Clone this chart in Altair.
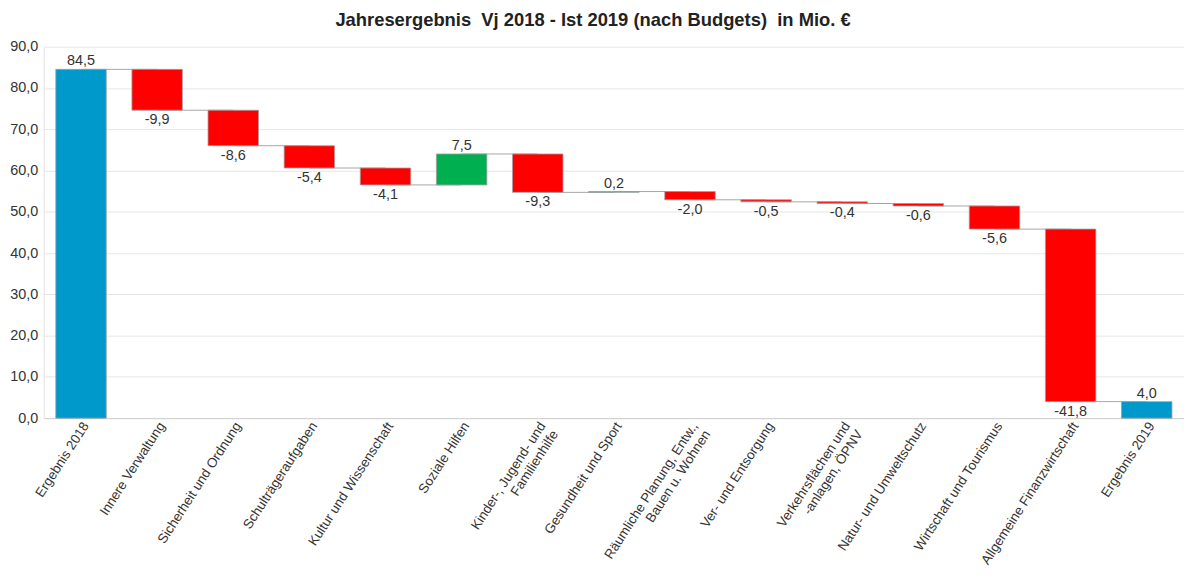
import altair as alt
import pandas as pd

categories = [
    "Ergebnis 2018", "Innere Verwaltung", "Sicherheit und Ordnung",
    "Schulträgeraufgaben", "Kultur und Wissenschaft", "Soziale Hilfen",
    "Kinder-, Jugend- und|Familienhilfe", "Gesundheit und Sport",
    "Räumliche Planung, Entw.,|Bauen u. Wohnen", "Ver- und Entsorgung",
    "Verkehrsflächen und|-anlagen, ÖPNV", "Natur- und Umweltschutz",
    "Wirtschaft und Tourismus", "Allgemeine Finanzwirtschaft", "Ergebnis 2019",
]
values = [84.5, -9.9, -8.6, -5.4, -4.1, 7.5, -9.3, 0.2, -2.0, -0.5, -0.4, -0.6, -5.6, -41.8, 4.0]
is_total = [True] + [False] * 13 + [True]

rows = []
level = 0.0
for i, (c, v, t) in enumerate(zip(categories, values, is_total)):
    if t:
        start, end = 0.0, v
        kind = "total"
    else:
        start, end = level, level + v
        kind = "up" if v >= 0 else "down"
    level = end
    rows.append({
        "cat": c, "value": v, "start": round(start, 2), "end": round(end, 2),
        "lo": round(min(start, end), 2), "hi": round(max(start, end), 2),
        "kind": kind,
        "next": categories[i + 1] if i + 1 < len(categories) else None,
    })
df = pd.DataFrame(rows)

FONT = "Liberation Sans"
TXT = "#333333"

xenc = alt.X("cat:N", sort=categories, title=None,
             scale=alt.Scale(paddingInner=0.337, paddingOuter=0.158),
             axis=alt.Axis(labelAngle=-57, labelAlign="right", labelBaseline="middle",
                           labelFontSize=13.5, labelFont=FONT, labelColor=TXT,
                           labelExpr="split(datum.label, '|')", labelLimit=300,
                           labelLineHeight=15, labelOffset=5,
                           ticks=False, domainColor="#d0d0d0", labelPadding=5))

base = alt.Chart(df)

connectors = base.transform_filter("datum.next != null").mark_rule(
    color="#a6a6a6", strokeWidth=1
).encode(x=xenc, x2="next:N", y=alt.Y("end:Q"))

bars = base.mark_bar(stroke="#a0a0a0", strokeWidth=0.8).encode(
    x=xenc,
    y=alt.Y("lo:Q", title=None,
            scale=alt.Scale(domain=[0, 90], nice=False),
            axis=alt.Axis(values=list(range(0, 91, 10)),
                          labelExpr="replace(format(datum.value, '.1f'), '.', ',')",
                          labelFontSize=14.5, labelFont=FONT, labelColor=TXT,
                          ticks=False, domainColor="#e0e0e0", gridColor="#e6e6e6",
                          labelPadding=6)),
    y2="hi:Q",
    color=alt.Color("kind:N", legend=None,
                    scale=alt.Scale(domain=["total", "up", "down"],
                                    range=["#0099CC", "#00B050", "#FF0000"])),
)

lbl = "replace(replace(format(datum.value, '.1f'), '.', ','), '\u2212', '-')"
text_up = base.transform_filter("datum.kind != 'down'").transform_calculate(
    lab=lbl
).mark_text(baseline="bottom", dy=-1, fontSize=14.5, font=FONT, color=TXT).encode(
    x=xenc, y="hi:Q", text="lab:N")
text_down = base.transform_filter("datum.kind == 'down'").transform_calculate(
    lab=lbl
).mark_text(baseline="top", dy=3, fontSize=14.5, font=FONT, color=TXT).encode(
    x=xenc, y="lo:Q", text="lab:N")

chart = alt.layer(connectors, bars, text_up, text_down).properties(
    width=1148, height=374,
    title=alt.TitleParams("Jahresergebnis\u00a0 Vj 2018 - Ist 2019 (nach Budgets)\u00a0 in Mio. €",
                          font=FONT, fontSize=18.5, fontWeight="bold",
                          color="#222222", dx=-21, offset=9),
    autosize=alt.AutoSizeParams(type="none"),
    padding={"left": 36, "top": 37, "right": 0, "bottom": 156},
).configure_view(stroke=None)

chart.save("out.html", embed_options={"renderer": "svg", "actions": False})
